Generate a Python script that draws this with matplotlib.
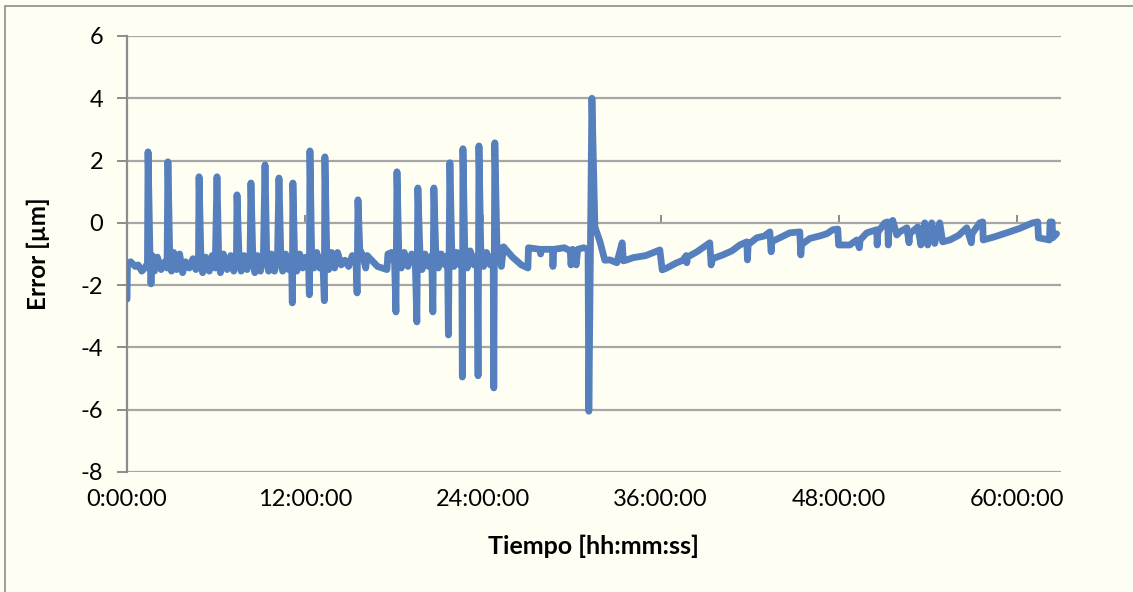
import matplotlib
matplotlib.use("Agg")
import matplotlib.pyplot as plt
from matplotlib.ticker import FixedLocator, FuncFormatter
from matplotlib.patches import Rectangle

# Elapsed time in hours and measured error in micrometres
tiempo_h = [
    0.00, 0.03, 0.25, 0.55, 0.75, 1.00, 1.20, 1.38,
    1.42, 1.55, 1.62, 1.70, 1.85, 2.05, 2.30, 2.55, 2.70,
    2.76, 2.88, 3.00, 3.15, 3.35, 3.55, 3.75, 3.95, 4.20, 4.45, 4.65, 4.82,
    4.86, 4.98, 5.10, 5.30, 5.55, 5.75, 5.95,
    6.07, 6.18, 6.30, 6.50, 6.75, 7.00, 7.20, 7.38,
    7.42, 7.55, 7.70, 7.90, 8.10, 8.30,
    8.36, 8.48, 8.62, 8.80, 9.00, 9.20,
    9.31, 9.42, 9.55, 9.75, 9.95, 10.15,
    10.25, 10.37, 10.50, 10.70, 10.90, 11.10,
    11.15, 11.19, 11.30, 11.45, 11.65, 11.85, 12.05, 12.25,
    12.30, 12.34, 12.45, 12.60, 12.80, 13.00, 13.20,
    13.31, 13.35, 13.47, 13.60, 13.80, 14.00, 14.20, 14.45, 14.70, 14.95, 15.20, 15.45,
    15.52, 15.58, 15.70, 15.90, 16.10, 16.20, 16.50, 16.90, 17.53, 17.60, 17.85, 18.05,
    18.14, 18.21, 18.33, 18.50, 18.70, 18.95, 19.20, 19.45,
    19.55, 19.62, 19.75, 19.90, 20.10, 20.35, 20.55,
    20.63, 20.70, 20.82, 21.00, 21.20, 21.45, 21.62,
    21.68, 21.78, 21.90, 22.05, 22.25, 22.45, 22.58,
    22.62, 22.66, 22.78, 22.95, 23.15, 23.40, 23.62,
    23.68, 23.74, 23.86, 24.05, 24.25, 24.50, 24.70,
    24.74, 24.81, 24.95, 25.15, 25.25, 25.40, 26.00, 26.60, 27.04,
    27.08, 27.85, 27.90, 27.95, 28.70, 28.73, 28.78, 29.50, 29.90, 29.95,
    30.05, 30.30, 30.40, 30.80, 31.10,
    31.15, 31.36, 31.56, 31.90, 32.23,
    32.57, 33.04, 33.40, 33.48, 33.72, 34.12, 35.00, 35.94, 36.10, 36.41,
    37.00, 37.49, 37.72, 37.76, 37.80, 38.44, 39.31, 39.40, 39.50, 40.19,
    40.80, 41.34, 41.81, 41.85, 41.90, 42.48, 43.00, 43.36, 43.45, 43.50, 44.03,
    44.71, 45.38, 45.45, 45.50, 46.06, 46.73, 47.20, 47.61, 47.94, 48.00,
    48.75, 49.22, 49.40, 49.45, 49.90, 50.57, 50.60, 50.65, 51.11,
    51.31, 51.35, 51.40, 51.65, 51.92, 52.12, 52.60, 52.75, 52.80,
    53.34, 53.55, 53.81, 54.01, 54.28, 54.48, 54.82, 55.02, 55.50,
    56.10, 56.64, 56.95, 57.00, 57.52, 57.72, 57.75, 58.50, 59.34, 60.20, 61.09, 61.43,
    61.48, 62.22, 62.26, 62.40, 62.44, 62.70,
]

error_um = [
    -2.45, -1.30, -1.25, -1.40, -1.35, -1.55, -1.45, -1.30,
    2.28, -1.10, -1.96, -1.05, -1.55, -1.10, -1.50, -1.25, -1.45,
    1.96, -1.00, -1.55, -0.95, -1.50, -1.00, -1.60, -1.25, -1.45, -1.15, -1.50, -1.30,
    1.48, -1.00, -1.60, -1.10, -1.55, -1.05, -1.45,
    1.48, -1.05, -1.60, -1.00, -1.50, -1.05, -1.55, -1.20,
    0.90, -1.00, -1.55, -1.05, -1.50, -1.10,
    1.28, -1.00, -1.60, -1.05, -1.55, -1.10,
    1.86, -1.00, -1.55, -1.00, -1.55, -1.15,
    1.44, -0.95, -1.55, -1.00, -1.50, -1.20,
    -2.57, 1.28, -1.00, -1.55, -1.00, -1.45, -1.10, -1.40,
    -2.31, 2.31, -0.90, -1.45, -0.95, -1.45, -1.10,
    -2.50, 2.12, -0.90, -1.50, -0.95, -1.45, -0.95, -1.35, -1.20, -1.40, -1.05, -1.30,
    -2.25, 0.74, -0.85, -1.05, -1.45, -1.05, -1.20, -1.40, -1.50, -1.00, -0.95, -1.30,
    -2.86, 1.64, -0.90, -1.45, -0.95, -1.40, -1.00, -1.35,
    -3.18, 1.12, -0.85, -1.50, -1.00, -1.40, -1.05,
    -2.86, 1.12, -0.85, -1.45, -1.00, -1.35, -1.05,
    -3.60, 1.93, -0.80, -1.40, -0.95, -1.35, -1.10,
    -4.95, 2.38, -0.80, -1.45, -0.90, -1.35, -1.05,
    -4.91, 2.47, -0.80, -1.40, -0.95, -1.35, -1.05,
    -5.30, 2.57, -0.70, -0.90, -1.40, -0.77, -1.10, -1.35, -1.45,
    -0.80, -0.85, -1.00, -0.85, -0.85, -1.40, -0.85, -0.80, -0.90, -1.35,
    -0.85, -1.35, -0.85, -0.80, -0.85,
    -6.05, 4.00, -0.13, -0.60, -1.20,
    -1.19, -1.28, -0.64, -1.22, -1.19, -1.12, -1.05, -0.87, -1.51, -1.45,
    -1.30, -1.20, -1.05, -1.28, -1.10, -0.93, -0.64, -1.35, -1.15, -1.03,
    -0.90, -0.71, -0.61, -1.19, -0.70, -0.48, -0.42, -0.29, -0.93, -0.60, -0.48,
    -0.32, -0.29, -1.03, -0.70, -0.50, -0.42, -0.35, -0.22, -0.20, -0.71,
    -0.71, -0.55, -0.80, -0.55, -0.32, -0.22, -0.71, -0.30, 0.00,
    0.03, -0.71, -0.10, 0.08, -0.39, -0.29, -0.16, -0.64, -0.35,
    -0.13, -0.71, 0.00, -0.71, 0.00, -0.66, 0.00, -0.61, -0.55,
    -0.40, -0.16, -0.64, -0.35, 0.00, 0.03, -0.55, -0.45, -0.32, -0.18, 0.00, 0.03,
    -0.48, -0.55, 0.03, 0.03, -0.48, -0.35,
]

x_ticks_h = [0, 12, 24, 36, 48, 60]
y_ticks = [-8, -6, -4, -2, 0, 2, 4, 6]

LINE_BLUE = "#5580BD"
GRID_GREY = "#A6A6A6"
AXIS_GREY = "#8C8C8C"
BG = "#FEFEF3"

plt.rcParams["font.family"] = ["Lato", "DejaVu Sans"]
plt.rcParams["axes.unicode_minus"] = False

fig = plt.figure(figsize=(11.33, 5.92), dpi=100, facecolor=BG)
ax = fig.add_axes([127 / 1133, 1 - 472 / 592, (1061 - 127) / 1133, (472 - 36) / 592])
ax.set_facecolor(BG)

ax.plot(tiempo_h, error_um, color=LINE_BLUE, lw=4.9, solid_joinstyle="round",
        solid_capstyle="round", zorder=3)

ax.set_xlim(0, 63)
ax.set_ylim(-8, 6)

# horizontal gridlines
ax.yaxis.set_major_locator(FixedLocator(y_ticks))
for yv in y_ticks:
    ax.axhline(yv, color=GRID_GREY, lw=1.6, zorder=1)

for side in ("top", "right", "bottom"):
    ax.spines[side].set_visible(False)
ax.spines["left"].set_color(AXIS_GREY)
ax.spines["left"].set_linewidth(1.6)

ax.tick_params(axis="y", direction="out", length=7, width=1.4, color=AXIS_GREY,
               pad=10, labelsize=17, labelcolor="black")

# time labels along the bottom edge
ax.xaxis.set_major_locator(FixedLocator(x_ticks_h))
ax.xaxis.set_major_formatter(FuncFormatter(lambda h, _: f"{int(h)}:00:00"))
ax.tick_params(axis="x", length=0, pad=12, labelsize=17, labelcolor="black")

# horizontal axis crossing at zero with its tick marks
sec = ax.secondary_xaxis(8 / 14)
sec.xaxis.set_major_locator(FixedLocator(x_ticks_h))
sec.tick_params(axis="x", direction="out", length=6, width=1.4, color=AXIS_GREY,
                labelbottom=False, labeltop=False)
for s in sec.spines.values():
    s.set_visible(False)

ax.set_xlabel("Tiempo [hh:mm:ss]", fontsize=18, fontweight="bold", labelpad=18)
ax.set_ylabel("Error [µm]", fontsize=17.5, fontweight="bold", labelpad=22)

# outer chart frame
fig.patches.append(Rectangle((5 / 1133, -0.1), 1.2, 1 - 6 / 592 + 0.1,
                             transform=fig.transFigure, fill=False,
                             edgecolor=AXIS_GREY, lw=1.2))

fig.savefig("out.png", dpi=100, facecolor=BG)
